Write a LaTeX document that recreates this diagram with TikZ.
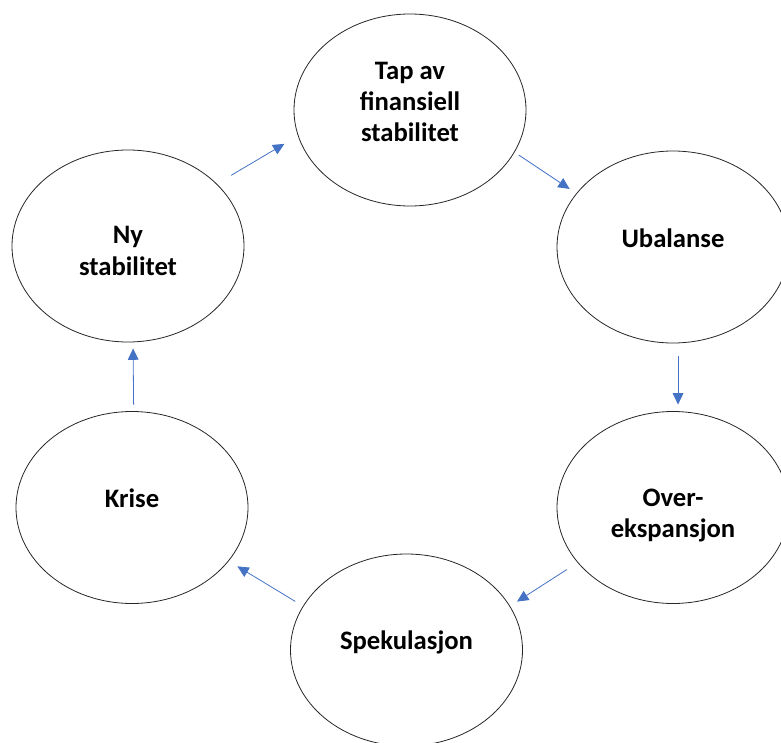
\documentclass[tikz,border=0pt]{standalone}
\usepackage{fontspec}
\setmainfont{Carlito}
\usetikzlibrary{shapes.geometric,arrows.meta}
\definecolor{flowblue}{HTML}{4472C4}
% extra depth / height to move the text inside an ellipse
\newcommand\lifttext[1]{\rule[-#1]{0pt}{#1}}
\newcommand\droptext[1]{\rule{0pt}{#1}}
\begin{document}
\begin{tikzpicture}[x=0.75pt,y=-0.75pt,
  phase/.style={draw=black!85,line width=0.6pt,ellipse,minimum width=174pt,minimum height=144pt,
    align=center,inner sep=0pt,font=\bfseries\fontsize{20}{23.5}\selectfont},
  flow/.style={draw=flowblue,line width=0.6pt,-{Triangle[length=8.5pt,width=8pt,fill=flowblue]}}]
\useasboundingbox (0,0) rectangle (781,742);
\clip (0,0) rectangle (781,742);
\node[phase] (tap) at (410,110){Tap av\\finansiell\\stabilitet\lifttext{12pt}};
\node[phase] (ubalanse) at (673,247){Ubalanse\lifttext{13.5pt}};
\node[phase] (over) at (673,507.5){\droptext{25.5pt}Over-\\ekspansjon};
\node[phase] (spek) at (406.5,650){Spekulasjon\lifttext{15pt}};
\node[phase] (krise) at (132,507.5){Krise\lifttext{13.5pt}};
\node[phase] (ny) at (128,246){\droptext{20.5pt}Ny\\stabilitet};
\draw [flow,shorten <=12.4pt,shorten >=11.8pt](ny.35.8) -- (tap.193.9);
\draw [flow,shorten <=3.8pt,shorten >=6pt](tap.338.6) -- (ubalanse.151);
\draw [flow,shorten <=9.8pt,shorten >=5pt](ubalanse.273) -- (over.87);
\draw [flow,shorten <=9.6pt,shorten >=6.2pt](over.210.6) -- (spek.23.1);
\draw [flow,shorten <=6.7pt,shorten >=7.6pt](spek.157.8) -- (krise.331.3);
\draw [flow,shorten <=4.9pt,shorten >=4.6pt](krise.89.4) -- (ny.273);
\end{tikzpicture}
\end{document}
